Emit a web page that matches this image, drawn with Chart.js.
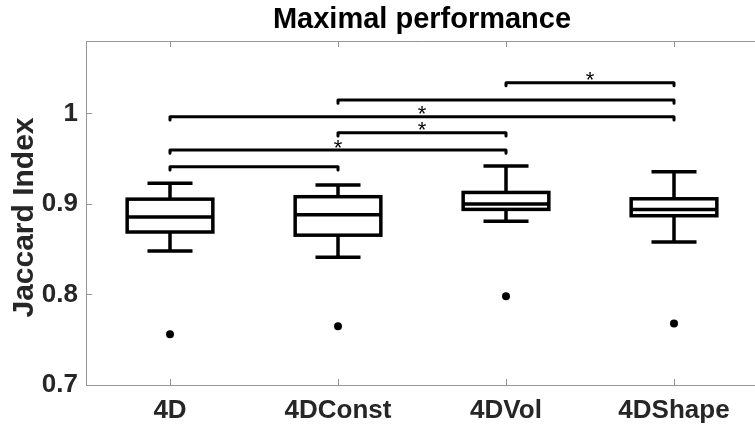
<!DOCTYPE html>
<html>
<head>
<meta charset="utf-8">
<script src="https://cdn.jsdelivr.net/npm/chart.js@4.4.0/dist/chart.umd.min.js"></script>
<style>
html,body{margin:0;padding:0;background:#fff;overflow:hidden;}
#wrap{width:755px;height:428px;overflow:hidden;}
canvas{display:block;}
</style>
</head>
<body>
<div id="wrap"><canvas id="chart" width="762" height="428"></canvas></div>
<script>
// box plot summary per group
const categories  = ['4D', '4DConst', '4DVol', '4DShape'];
const whiskerLow  = [0.848, 0.841, 0.881, 0.858];
const q1          = [0.869, 0.8655, 0.894, 0.887];
const median      = [0.8857, 0.888, 0.900, 0.894];
const q3          = [0.9053, 0.908, 0.9127, 0.9057];
const whiskerHigh = [0.923, 0.921, 0.942, 0.9355];
const outliers    = [0.756, 0.765, 0.798, 0.768];
const yTicks      = [0.7, 0.8, 0.9, 1];

// significance brackets
const pairs     = [[0, 1], [0, 2], [1, 2], [0, 3], [1, 3], [2, 3]];
const pairLevel = [0.941, 0.9595, 0.9786, 0.9963, 1.0147, 1.034];
const pairStar  = [false, true, true, true, false, true];

const INK = '#000', AXIS = '#969696', TEXT = '#262626';
const FONT = '"Liberation Sans", Arial, sans-serif';
const BOX_HALF = 0.255, CAP_HALF = 0.134, HOOK = 0.0035, TICK = 6;

const bracketSets = pairs.map((p, i) => ({
  type: 'scatter', showLine: true,
  data: [{x: p[0], y: pairLevel[i] - HOOK}, {x: p[0], y: pairLevel[i]}, {x: p[1], y: pairLevel[i]}, {x: p[1], y: pairLevel[i] - HOOK}],
  borderColor: INK, borderWidth: 3, pointRadius: 0, borderCapStyle: 'round', borderJoinStyle: 'round'
}));

const outlierSet = {
  type: 'scatter',
  data: outliers.map((v, i) => ({x: i, y: v})),
  pointRadius: 4, backgroundColor: INK, borderWidth: 0
};

const boxes = {
  id: 'boxes',
  afterDatasetsDraw(chart){
    const {ctx, scales: {x, y}} = chart;
    ctx.save();
    ctx.strokeStyle = INK; ctx.lineWidth = 3.5; ctx.lineCap = 'butt';
    categories.forEach((c, i) => {
      const xl = x.getPixelForValue(i - BOX_HALF), xr = x.getPixelForValue(i + BOX_HALF), xc = x.getPixelForValue(i);
      const cl = x.getPixelForValue(i - CAP_HALF), cr = x.getPixelForValue(i + CAP_HALF);
      const yLo = y.getPixelForValue(whiskerLow[i]), yQ1 = y.getPixelForValue(q1[i]), yMd = y.getPixelForValue(median[i]);
      const yQ3 = y.getPixelForValue(q3[i]), yHi = y.getPixelForValue(whiskerHigh[i]);
      ctx.strokeRect(xl, yQ3, xr - xl, yQ1 - yQ3);
      ctx.beginPath();
      ctx.moveTo(xl, yMd); ctx.lineTo(xr, yMd);
      ctx.moveTo(xc, yQ3); ctx.lineTo(xc, yHi);
      ctx.moveTo(xc, yQ1); ctx.lineTo(xc, yLo);
      ctx.moveTo(cl, yHi); ctx.lineTo(cr, yHi);
      ctx.moveTo(cl, yLo); ctx.lineTo(cr, yLo);
      ctx.stroke();
    });
    ctx.restore();
  }
};

const frame = {
  id: 'frame',
  afterDraw(chart){
    const {ctx, chartArea: a, scales: {x, y}} = chart;
    ctx.save();
    ctx.strokeStyle = AXIS; ctx.lineWidth = 1;
    ctx.beginPath();
    ctx.moveTo(a.left + 0.5, a.top + 0.5); ctx.lineTo(a.right, a.top + 0.5);
    ctx.moveTo(a.left + 0.5, a.top); ctx.lineTo(a.left + 0.5, a.bottom + 0.5);
    ctx.moveTo(a.left, a.bottom + 0.5); ctx.lineTo(a.right, a.bottom + 0.5);
    categories.forEach((c, i) => {
      const px = Math.round(x.getPixelForValue(i)) + 0.5;
      ctx.moveTo(px, a.bottom); ctx.lineTo(px, a.bottom - TICK);
      ctx.moveTo(px, a.top); ctx.lineTo(px, a.top + TICK);
    });
    yTicks.forEach(v => {
      const py = Math.round(y.getPixelForValue(v)) + 0.5;
      ctx.moveTo(a.left, py); ctx.lineTo(a.left + TICK, py);
    });
    ctx.stroke();

    // title
    ctx.fillStyle = INK;
    ctx.font = 'bold 29px ' + FONT;
    ctx.textAlign = 'center'; ctx.textBaseline = 'alphabetic';
    ctx.fillText('Maximal performance', (a.left + a.right) / 2, 27.5);

    // y axis title
    ctx.fillStyle = TEXT;
    ctx.font = 'bold 30px ' + FONT;
    ctx.save();
    ctx.translate(32.5, 217.5);
    ctx.rotate(-Math.PI / 2);
    ctx.fillText('Jaccard Index', 0, 0);
    ctx.restore();

    // stars
    ctx.fillStyle = INK;
    ctx.font = '22px ' + FONT;
    pairs.forEach((p, i) => {
      if (!pairStar[i]) return;
      const px = x.getPixelForValue((p[0] + p[1]) / 2), py = y.getPixelForValue(pairLevel[i]);
      ctx.fillText('*', px, py + 4.5);
    });
    ctx.restore();
  }
};

new Chart(document.getElementById('chart'), {
  type: 'scatter',
  data: {datasets: [...bracketSets, outlierSet]},
  options: {
    responsive: false, animation: false, devicePixelRatio: 1, events: [],
    layout: {padding: {top: 41, right: 2, left: 0, bottom: 0}},
    plugins: {legend: {display: false}, tooltip: {enabled: false}, title: {display: false}},
    scales: {
      x: {
        type: 'linear', min: -0.5, max: 3.5,
        afterBuildTicks: s => { s.ticks = categories.map((c, i) => ({value: i})); },
        afterFit: s => { s.height = 43; },
        ticks: {color: TEXT, padding: 10, maxRotation: 0, autoSkip: false, font: {family: FONT, size: 26, weight: 'bold'}, callback: v => categories[v] ?? ''},
        grid: {display: false, drawTicks: false}, border: {display: false}
      },
      y: {
        min: 0.7, max: 1.08,
        afterBuildTicks: s => { s.ticks = yTicks.map(v => ({value: v})); },
        afterFit: s => { s.width = 86; },
        ticks: {color: TEXT, padding: 8, font: {family: FONT, size: 26, weight: 'bold'}, callback: v => String(v)},
        grid: {display: false, drawTicks: false}, border: {display: false}
      }
    }
  },
  plugins: [boxes, frame]
});
</script>
</body>
</html>
